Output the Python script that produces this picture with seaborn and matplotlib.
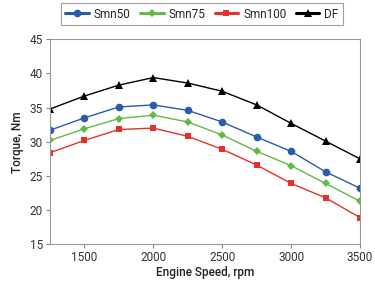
import matplotlib
matplotlib.use("Agg")
import matplotlib.pyplot as plt
import seaborn as sns
import pandas as pd

# engine speed (rpm) and torque (Nm) for each fuel
speed = [1250, 1500, 1750, 2000, 2250, 2500, 2750, 3000, 3250, 3500]
smn50 = [31.7, 33.5, 35.1, 35.4, 34.6, 32.9, 30.7, 28.6, 25.6, 23.2]
smn75 = [30.2, 31.9, 33.4, 33.9, 32.9, 31.0, 28.6, 26.5, 23.9, 21.3]
smn100 = [28.4, 30.2, 31.8, 32.0, 30.8, 28.9, 26.6, 23.9, 21.8, 18.9]
df_fuel = [34.8, 36.7, 38.3, 39.4, 38.6, 37.4, 35.4, 32.7, 30.1, 27.5]

series = ["Smn50", "Smn75", "Smn100", "DF"]
colors = ["#2B5CAB", "#62B946", "#E4312B", "#000000"]
markers = ["o", "D", "s", "^"]

data = pd.DataFrame({
    "speed": speed * 4,
    "torque": smn50 + smn75 + smn100 + df_fuel,
    "fuel": [s for s in series for _ in speed],
})

sns.set_style("white")
plt.rcParams["font.family"] = ["Roboto", "DejaVu Sans"]

fig = plt.figure(figsize=(3.75, 2.83), dpi=100)
ax = fig.add_axes([0.1333, 0.137, 0.8267, 0.724])

sizes = {"o": 5.5, "D": 4.5, "s": 5, "^": 5.5}
for name, col, mk in zip(series, colors, markers):
    sub = data[data["fuel"] == name]
    sns.lineplot(data=sub, x="speed", y="torque", ax=ax, color=col,
                 marker=mk, markersize=sizes[mk], markeredgewidth=0,
                 linewidth=1.0, label=name)

ax.set_xlim(1250, 3500)
ax.set_ylim(15, 45)
ax.set_xticks([1500, 2000, 2500, 3000, 3500])
ax.set_yticks([15, 20, 25, 30, 35, 40, 45])
ax.set_xlabel("Engine Speed, rpm", fontsize=8.5, fontweight="medium",
              color="#222222", labelpad=1)
ax.set_ylabel("Torque, Nm", fontsize=8.5, fontweight="medium", color="#222222")
ax.tick_params(axis="both", labelsize=8.5, colors="#333333", length=3,
               width=0.8, direction="out", color="#888888", pad=2)
ax.tick_params(axis="both", bottom=True, left=True)
for sp in ax.spines.values():
    sp.set_color("#999999")
    sp.set_linewidth(0.8)

leg = ax.legend(loc="lower center", bbox_to_anchor=(0.49, 1.04), ncol=4,
                frameon=True, fontsize=8.5, handlelength=2.0, handletextpad=0.4,
                columnspacing=0.8, borderpad=0.4, fancybox=False)
leg.get_frame().set_edgecolor("#888888")
leg.get_frame().set_linewidth(0.8)
for line in leg.get_lines():
    line.set_linewidth(2.2)

fig.savefig("out.png", dpi=100)
